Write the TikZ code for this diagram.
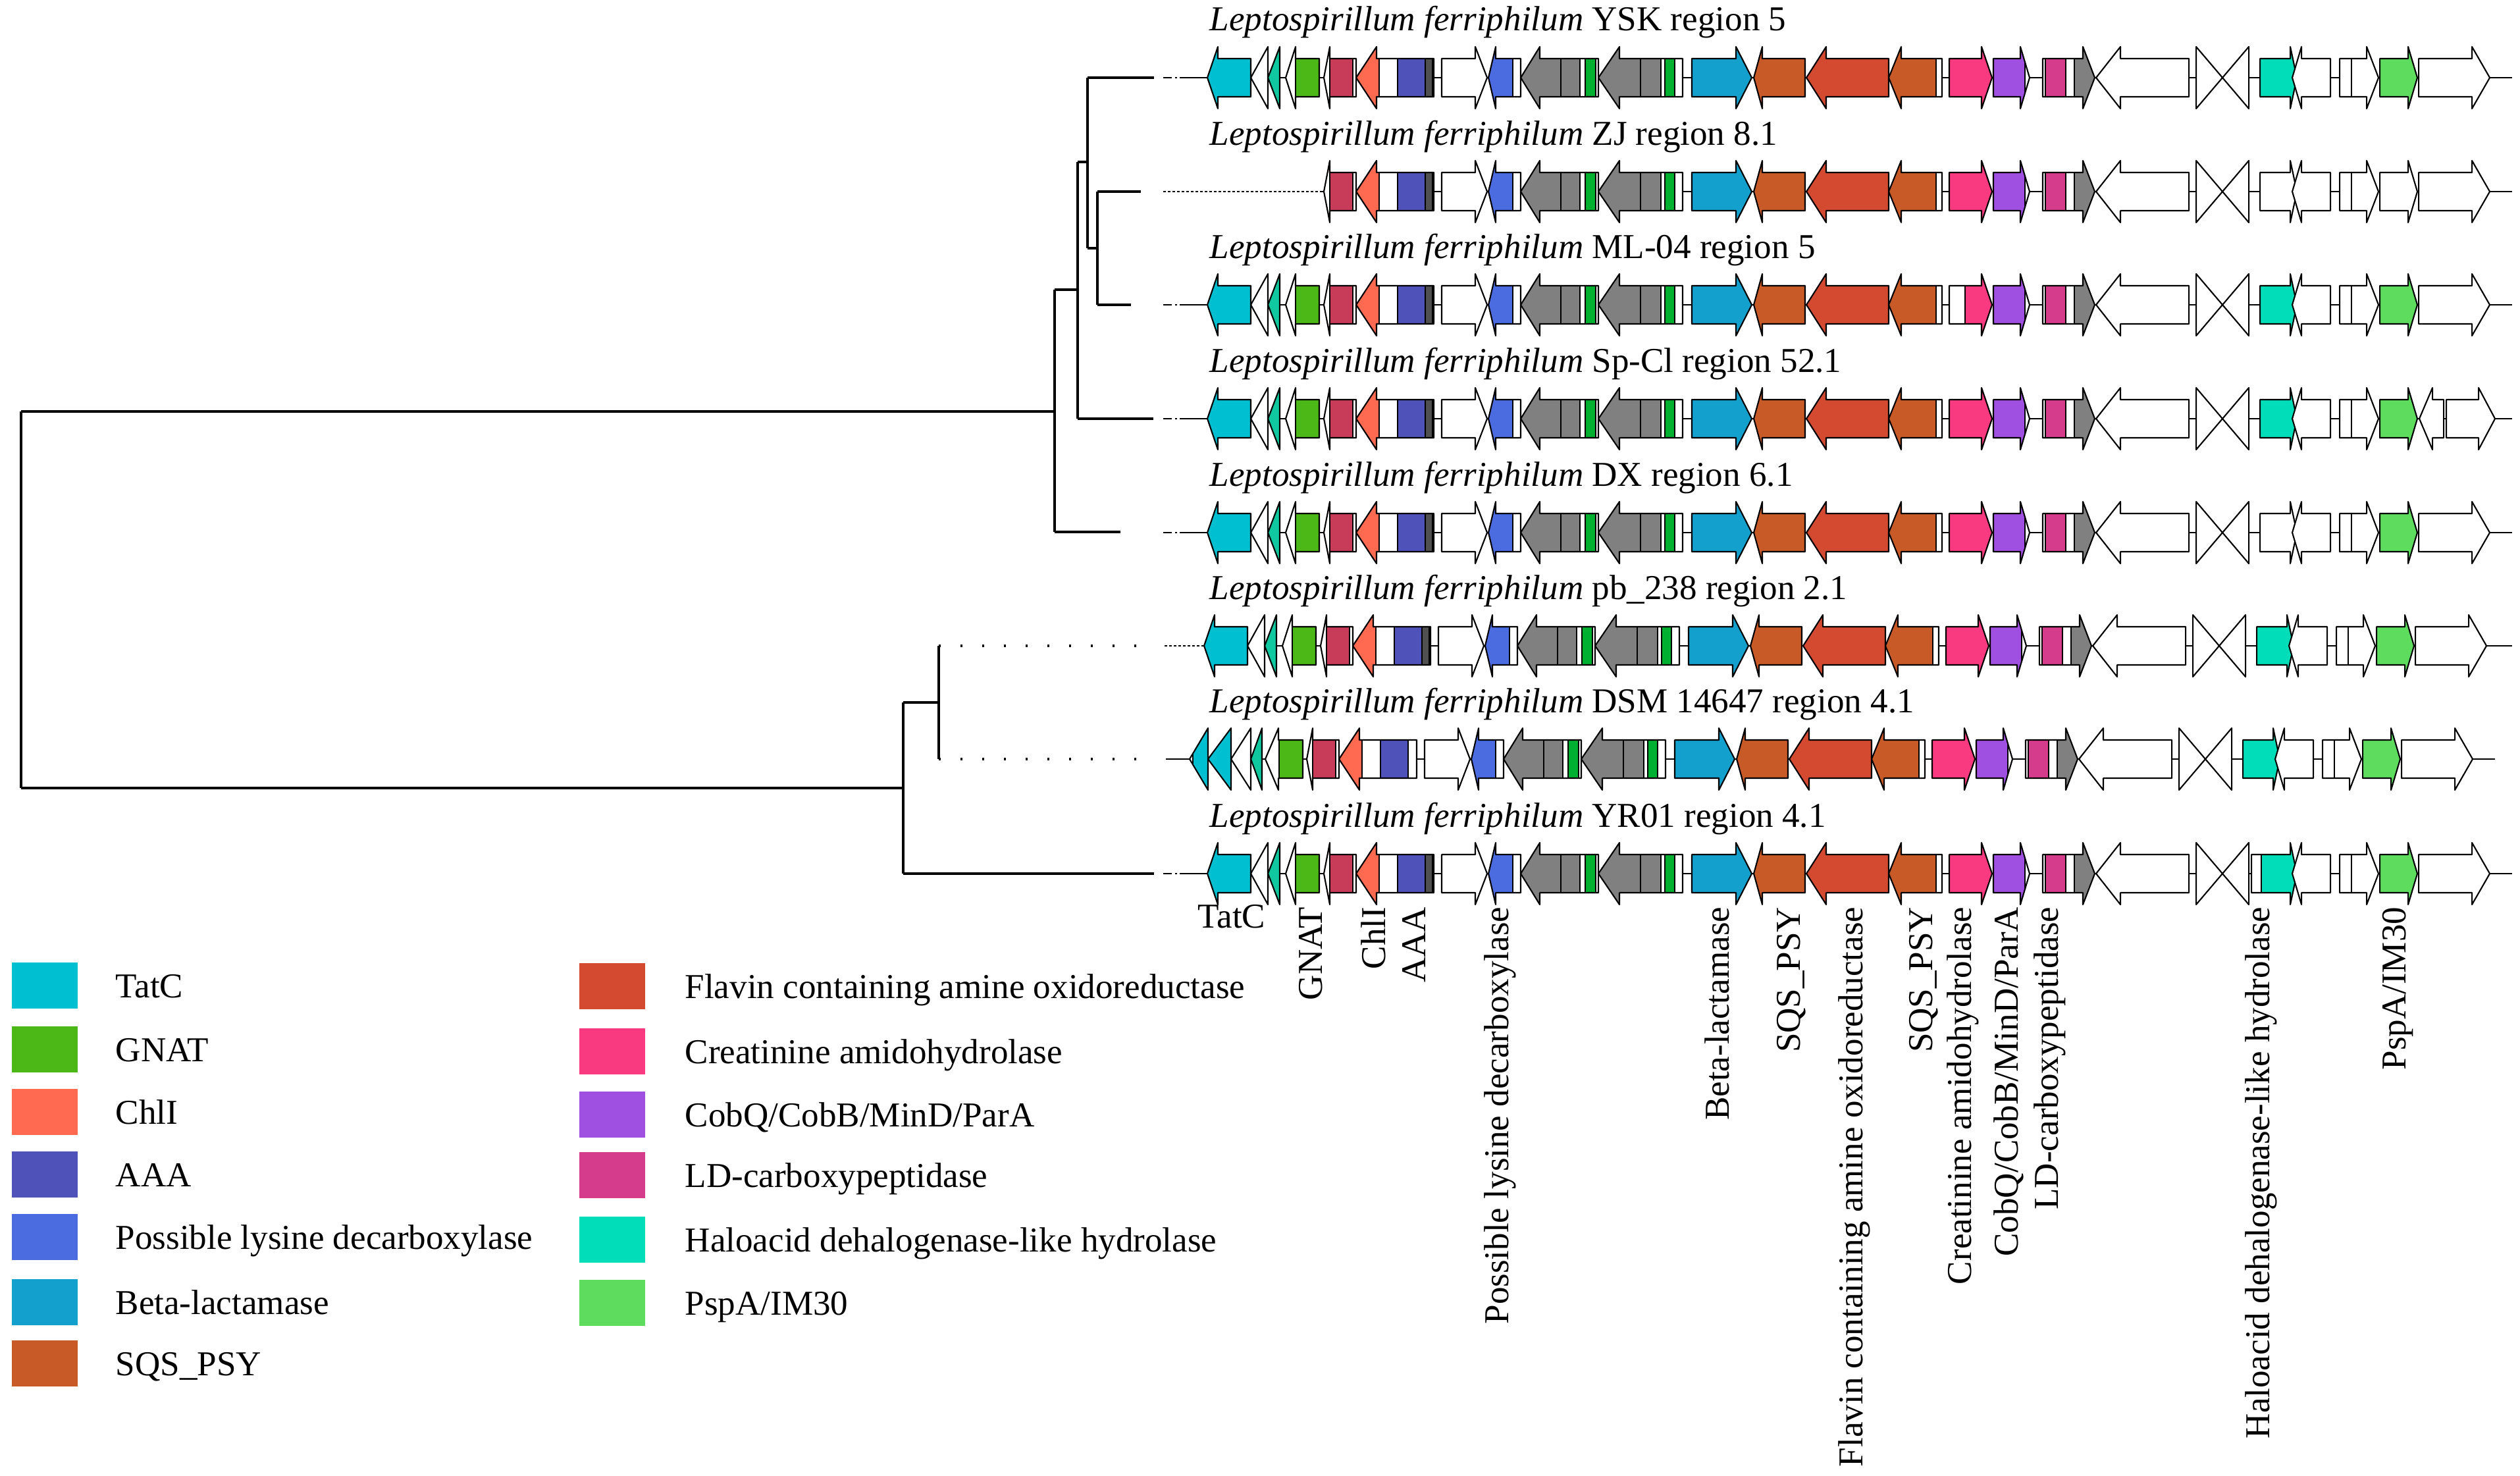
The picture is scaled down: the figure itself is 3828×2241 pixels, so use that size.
\documentclass[tikz,border=0pt]{standalone}
\usepackage{fontspec}
\setmainfont{Liberation Serif}
\definecolor{ctatc}{HTML}{00BFD0}
\definecolor{cgnat}{HTML}{4CB818}
\definecolor{cchli}{HTML}{FF6A50}
\definecolor{caaa}{HTML}{4F52B8}
\definecolor{clys}{HTML}{4A6CE0}
\definecolor{cbeta}{HTML}{14A0CC}
\definecolor{csqs}{HTML}{C85A28}
\definecolor{cflav}{HTML}{D44A30}
\definecolor{ccrea}{HTML}{FA3A80}
\definecolor{ccobq}{HTML}{A050E0}
\definecolor{cldc}{HTML}{D63C8C}
\definecolor{chalo}{HTML}{00DDB8}
\definecolor{cpspa}{HTML}{5EDC5E}
\definecolor{ccrim}{HTML}{C83C5A}
\definecolor{cgrey}{HTML}{808080}
\definecolor{cgg}{HTML}{00B030}
\definecolor{cteal}{HTML}{10C8A0}
\definecolor{cdark}{HTML}{505050}
\tikzset{
  gene/.style={draw=black,line width=0.6pt,line join=round},
  backbone/.style={line width=0.8pt},
  tree/.style={line width=0.9pt},
  sparsedots/.style={line width=0.9pt,dash pattern=on 0.3mm off 3.0mm},
  densedots/.style={line width=0.8pt,dash pattern=on 0.35mm off 0.35mm},
  dashdot/.style={line width=0.8pt,dash pattern=on 1.3mm off 0.5mm on 0.3mm off 0.4mm},
  txt/.style={inner sep=0pt,font=\fontsize{15.1pt}{18pt}\selectfont},
  rowlab/.style={txt,anchor=base west},
  vlab/.style={txt,rotate=90,anchor=base east},
  legbox/.style={minimum width=10mm,minimum height=7mm,inner sep=0pt,draw=none},
  legtxt/.style={txt,anchor=base west}
}
% right-pointing gene: x1, x2, head length, domains
\newcommand\gR[4]{%
  \begin{scope}
    \clip (#1,-29)--({#2-#3},-29)--({#2-#3},-47)--(#2,0)--({#2-#3},47)--({#2-#3},29)--(#1,29)--cycle;
    \fill[white] (#1,-50) rectangle (#2,50);
    \foreach \dA/\dB/\dC in {#4}{\filldraw[fill=\dC,draw=black,line width=0.6pt] (\dA,-50) rectangle (\dB,50);}
  \end{scope}
  \draw[gene] (#1,-29)--({#2-#3},-29)--({#2-#3},-47)--(#2,0)--({#2-#3},47)--({#2-#3},29)--(#1,29)--cycle;}
% left-pointing gene
\newcommand\gL[4]{%
  \begin{scope}
    \clip (#2,-29)--({#1+#3},-29)--({#1+#3},-47)--(#1,0)--({#1+#3},47)--({#1+#3},29)--(#2,29)--cycle;
    \fill[white] (#1,-50) rectangle (#2,50);
    \foreach \dA/\dB/\dC in {#4}{\filldraw[fill=\dC,draw=black,line width=0.6pt] (\dA,-50) rectangle (\dB,50);}
  \end{scope}
  \draw[gene] (#2,-29)--({#1+#3},-29)--({#1+#3},-47)--(#1,0)--({#1+#3},47)--({#1+#3},29)--(#2,29)--cycle;}
% head-only genes
\newcommand\tR[3]{%
  \begin{scope}
    \clip (#1,-47)--(#2,0)--(#1,47)--cycle;
    \fill[white] (#1,-50) rectangle (#2,50);
    \foreach \dA/\dB/\dC in {#3}{\filldraw[fill=\dC,draw=black,line width=0.6pt] (\dA,-50) rectangle (\dB,50);}
  \end{scope}
  \draw[gene] (#1,-47)--(#2,0)--(#1,47)--cycle;}
\newcommand\tL[3]{%
  \begin{scope}
    \clip (#2,-47)--(#1,0)--(#2,47)--cycle;
    \fill[white] (#1,-50) rectangle (#2,50);
    \foreach \dA/\dB/\dC in {#3}{\filldraw[fill=\dC,draw=black,line width=0.6pt] (\dA,-50) rectangle (\dB,50);}
  \end{scope}
  \draw[gene] (#2,-47)--(#1,0)--(#2,47)--cycle;}
\newcommand\blockA{%
  \gL{1834}{1900}{16}{1834/1900/ctatc}%
  \tL{1900}{1926}{0/0/white}%
  \tL{1926}{1944}{1926/1944/cteal}%
  \gL{1953}{2004}{15}{1968/2004/cgnat}}
\newcommand\blockB[1]{%
  \gL{2011}{2060}{9}{2020/2055/ccrim}%
  \gL{2060}{2178}{31}{2060/2095/cchli,2123/2165/caaa,#1}%
  \gR{2190}{2259}{18}{0/0/white}%
  \gL{2261}{2310}{11}{2261/2298/clys}%
  \gL{2310}{2428}{29}{2310/2371/cgrey,2371/2400/cgrey,2408/2424/cgg}%
  \gL{2428}{2556}{32}{2428/2492/cgrey,2492/2523/cgrey,2529/2544/cgg}%
  \gR{2570}{2661}{24}{2570/2661/cbeta}%
  \gL{2664}{2742}{13}{2664/2742/csqs}%
  \gL{2744}{2869}{30}{2744/2869/cflav}%
  \gL{2869}{2950}{19}{2869/2941/csqs}}
\newcommand\blockC[4]{%
  \gR{2961}{3026}{16}{#1/3026/ccrea}%
  \gR{3028}{3083}{14}{3028/3076/ccobq}%
  \gR{3103}{3182}{18}{3107/3138/cldc,3151/3182/cgrey}%
  \gL{3184}{3325}{37}{0/0/white}%
  \tR{3336}{3376}{0/0/white}%
  \tL{3376}{3416}{0/0/white}%
  \gR{#2}{3489}{10}{#3}%
  \gL{3482}{3540}{14}{0/0/white}%
  \gR{3554}{3613}{18}{3554/3572/white}%
  \gR{3615}{3672}{14}{3615/3672/#4}}
\newcommand\lastgene{\gR{3674}{3782}{27}{0/0/white}}
\begin{document}
\begin{tikzpicture}[x=0.1mm,y=-0.1mm]
\useasboundingbox (0,0) rectangle (3828,2241);
% ---------------- tree ----------------
\coordinate (root) at (32,625);
\coordinate (rootb) at (32,1197);
\coordinate (nU) at (1602,625);
\coordinate (nL) at (1372,1197);
\draw[tree] (root) -- (rootb);
\draw[tree] (root) -- (nU);
\draw[tree] (1602,440) -- (1602,808);
\draw[tree] (1602,808) -- (1702,808);
\draw[tree] (1602,440) -- (1637,440);
\draw[tree] (1637,246) -- (1637,636);
\draw[tree] (1637,636) -- (1752,636);
\draw[tree] (1637,246) -- (1652,246);
\draw[tree] (1652,118) -- (1652,377);
\draw[tree] (1652,118) -- (1753,118);
\draw[tree] (1652,377) -- (1667,377);
\draw[tree] (1667,291) -- (1667,463);
\draw[tree] (1667,291) -- (1733,291);
\draw[tree] (1667,463) -- (1718,463);
\draw[tree] (rootb) -- (nL);
\draw[tree] (1372,1067) -- (1372,1327);
\draw[tree] (1372,1327) -- (1753,1327);
\draw[tree] (1372,1067) -- (1426,1067);
\draw[tree] (1426,981) -- (1426,1153);
\draw[sparsedots] (1426,981) -- (1730,981);
\draw[sparsedots] (1426,1153) -- (1730,1153);
% connectors to the gene rows
\foreach \yy in {118,463,636,809,1327}{\draw[dashdot] (1767,\yy) -- (1798,\yy);}
\draw[densedots] (1767,291) -- (2005,291);
\draw[densedots] (1769,981) -- (1830,981);
% ---------------- row labels ----------------
\node[rowlab] (lab1) at (1837,47) {\textit{Leptospirillum ferriphilum} YSK region 5};
\node[rowlab] (lab2) at (1837,220) {\textit{Leptospirillum ferriphilum} ZJ region 8.1};
\node[rowlab] (lab3) at (1837,392) {\textit{Leptospirillum ferriphilum} ML-04 region 5};
\node[rowlab] (lab4) at (1837,565) {\textit{Leptospirillum ferriphilum} Sp-Cl region 52.1};
\node[rowlab] (lab5) at (1837,738) {\textit{Leptospirillum ferriphilum} DX region 6.1};
\node[rowlab] (lab6) at (1837,910) {\textit{Leptospirillum ferriphilum} pb\_238 region 2.1};
\node[rowlab] (lab7) at (1837,1082) {\textit{Leptospirillum ferriphilum} DSM 14647 region 4.1};
\node[rowlab] (lab8) at (1837,1256) {\textit{Leptospirillum ferriphilum} YR01 region 4.1};
% ---------------- gene rows ----------------
% YSK
\begin{scope}[shift={(0,118)}]
  \draw[backbone] (1798,0) -- (3816,0);
  \blockA \blockB{2165/2176/cdark} \blockC{2961}{3433}{3433/3489/chalo}{cpspa} \lastgene
\end{scope}
% ZJ
\begin{scope}[shift={(0,291)}]
  \draw[backbone] (2005,0) -- (3816,0);
  \blockB{2165/2176/cdark} \blockC{2961}{3433}{0/0/white}{white} \lastgene
\end{scope}
% ML-04
\begin{scope}[shift={(0,463)}]
  \draw[backbone] (1798,0) -- (3816,0);
  \blockA \blockB{2165/2176/cdark} \blockC{2985}{3433}{3433/3489/chalo}{cpspa} \lastgene
\end{scope}
% Sp-Cl
\begin{scope}[shift={(0,636)}]
  \draw[backbone] (1798,0) -- (3816,0);
  \blockA \blockB{2165/2176/cdark} \blockC{2961}{3433}{3433/3489/chalo}{cpspa}
  \gL{3675}{3712}{20}{0/0/white}
  \gR{3716}{3790}{25}{0/0/white}
\end{scope}
% DX
\begin{scope}[shift={(0,809)}]
  \draw[backbone] (1798,0) -- (3816,0);
  \blockA \blockB{2165/2176/cdark} \blockC{2961}{3433}{0/0/white}{cpspa} \lastgene
\end{scope}
% pb_238
\begin{scope}[shift={(-5,981)}]
  \draw[backbone] (1835,0) -- (3821,0);
  \blockA \blockB{2165/2176/cdark} \blockC{2961}{3433}{3433/3489/chalo}{cpspa} \lastgene
\end{scope}
% DSM 14647
\begin{scope}[shift={(0,1153)}]
  \draw[backbone] (1771,0) -- (3790,0);
  \tL{1807}{1835}{1812/1835/ctatc}
  \tL{1835}{1870}{1835/1870/ctatc}
  \tL{1870}{1900}{0/0/white}
  \tL{1900}{1917}{1900/1917/cteal}
  \gL{1922}{1979}{20}{1943/1979/cgnat}
  \begin{scope}[shift={(-26,0)}]
    \blockB{0/0/white} \blockC{2961}{3433}{3433/3489/chalo}{cpspa} \lastgene
  \end{scope}
\end{scope}
% YR01
\begin{scope}[shift={(0,1327)}]
  \draw[backbone] (1797,0) -- (3816,0);
  \blockA \blockB{2165/2176/cdark} \blockC{2961}{3420}{3435/3489/chalo}{cpspa} \lastgene
\end{scope}
% ---------------- gene labels ----------------
\node[txt,anchor=base] (g0) at (1871,1409) {TatC};
\node[vlab] (g1) at (2008,1377) {GNAT};
\node[vlab] (g2) at (2104,1377) {ChlI};
\node[vlab] (g3) at (2165,1377) {AAA};
\node[vlab] (g4) at (2291,1377) {Possible lysine decarboxylase};
\node[vlab] (g5) at (2626,1377) {Beta-lactamase};
\node[vlab] (g6) at (2734,1377) {SQS\_PSY};
\node[vlab] (g7) at (2829,1377) {Flavin containing amine oxidoreductase};
\node[vlab] (g8) at (2935,1377) {SQS\_PSY};
\node[vlab] (g9) at (2994,1377) {Creatinine amidohydrolase};
\node[vlab] (g10) at (3065,1377) {CobQ/CobB/MinD/ParA};
\node[vlab] (g11) at (3126,1377) {LD-carboxypeptidase};
\node[vlab] (g12) at (3447,1377) {Haloacid dehalogenase-like hydrolase};
\node[vlab] (g13) at (3654,1377) {PspA/IM30};
% ---------------- legend ----------------
\node[legbox,fill=ctatc] (kb1) at (68,1497) {};
\node[legtxt] (kt1) at (175,1515) {TatC};
\node[legbox,fill=cgnat] (kb2) at (68,1594) {};
\node[legtxt] (kt2) at (175,1612) {GNAT};
\node[legbox,fill=cchli] (kb3) at (68,1689) {};
\node[legtxt] (kt3) at (175,1707) {ChlI};
\node[legbox,fill=caaa] (kb4) at (68,1784) {};
\node[legtxt] (kt4) at (175,1802) {AAA};
\node[legbox,fill=clys] (kb5) at (68,1879) {};
\node[legtxt] (kt5) at (175,1897) {Possible lysine decarboxylase};
\node[legbox,fill=cbeta] (kb6) at (68,1978) {};
\node[legtxt] (kt6) at (175,1996) {Beta-lactamase};
\node[legbox,fill=csqs] (kb7) at (68,2071) {};
\node[legtxt] (kt7) at (175,2089) {SQS\_PSY};
\node[legbox,fill=cflav] (kb8) at (930,1498) {};
\node[legtxt] (kt8) at (1040,1516) {Flavin containing amine oxidoreductase};
\node[legbox,fill=ccrea] (kb9) at (930,1597) {};
\node[legtxt] (kt9) at (1040,1615) {Creatinine amidohydrolase};
\node[legbox,fill=ccobq] (kb10) at (930,1693) {};
\node[legtxt] (kt10) at (1040,1711) {CobQ/CobB/MinD/ParA};
\node[legbox,fill=cldc] (kb11) at (930,1785) {};
\node[legtxt] (kt11) at (1040,1803) {LD-carboxypeptidase};
\node[legbox,fill=chalo] (kb12) at (930,1883) {};
\node[legtxt] (kt12) at (1040,1901) {Haloacid dehalogenase-like hydrolase};
\node[legbox,fill=cpspa] (kb13) at (930,1979) {};
\node[legtxt] (kt13) at (1040,1997) {PspA/IM30};
\end{tikzpicture}
\end{document}
